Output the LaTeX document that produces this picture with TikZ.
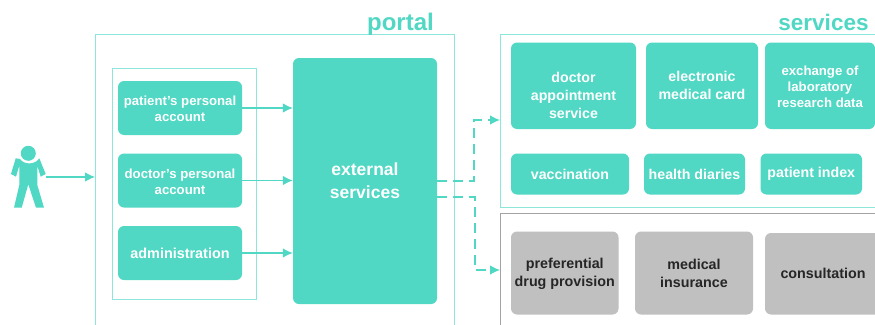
\documentclass[tikz,border=0pt]{standalone}
\usepackage{fontspec}
\setmainfont{Liberation Sans}
\usepackage{xcolor}
\usetikzlibrary{arrows.meta}
\definecolor{mint}{HTML}{50D8C4}
\definecolor{mintframe}{HTML}{8CE6D9}
\definecolor{greybox}{HTML}{C0C0C0}
\newcommand{\topstrut}[1]{\rule{0pt}{#1pt}}
\tikzset{
  mintbox/.style={rectangle, rounded corners=6, fill=mint, text=white, inner sep=0, align=center, font=\bfseries\fontsize{13.2}{16}\selectfont},
  largemint/.style={mintbox, font=\bfseries\fontsize{14.2}{18}\selectfont},
  greyitem/.style={rectangle, rounded corners=6, fill=greybox, text=black!85, inner sep=0, align=center, font=\bfseries\fontsize{14.3}{18}\selectfont},
  framebox/.style={rectangle, draw=mintframe, line width=0.9, inner sep=0},
  flow/.style={draw=mint, line width=1.2, -{Latex[length=10,width=9.5]}},
  dashflow/.style={flow, dash pattern=on 10 off 6},
  heading/.style={text=mint, anchor=base, font=\bfseries\fontsize{22.5}{26}\selectfont},
}
\begin{document}
\begin{tikzpicture}[x=1pt,y=-1pt]
        \clip (0,0) rectangle (875,324);
        \fill[white] (0,0) rectangle (875,324);
        \node[framebox, minimum width=358.5, minimum height=320] (portalframe) at (274.75,194) {};
        \node[framebox, minimum width=143.5, minimum height=231] (accountframe) at (184.25,183.5) {};
        \node[framebox, minimum width=390, minimum height=173] (servicesframe) at (695.5,120.5) {};
        \node[framebox, draw=greybox!85!black, minimum width=390, minimum height=130] (paidframe) at (695.5,278) {};
        \node[heading, font=\bfseries\fontsize{24}{26}\selectfont] (portallabel) at (400.5,30) {portal};
        \node[heading] (serviceslabel) at (823.5,30) {services};
        \node[mintbox, minimum width=124, minimum height=54] (patient) at (180,108) {\topstrut{12}patient's personal\\account};
        \node[mintbox, minimum width=124, minimum height=54] (doctor) at (180,180.5) {\topstrut{12}doctor's personal\\account};
        \node[largemint, minimum width=124, minimum height=54, font=\bfseries\fontsize{14.4}{18}\selectfont] (admin) at (180,253) {administration};
        \node[mintbox, minimum width=144, minimum height=246, font=\bfseries\fontsize{17.5}{23}\selectfont] (external) at (365,181) {external\\services};
        \node[largemint, minimum width=125, minimum height=86.5] (appointment) at (573.5,85.75) {\topstrut{30}doctor\\appointment\\service};
        \node[largemint, minimum width=112, minimum height=86.5] (medcard) at (702,85.75) {electronic\\medical card};
        \node[mintbox, minimum width=110, minimum height=86.5] (labdata) at (820,85.75) {\topstrut{12}exchange of\\laboratory\\research data};
        \node[largemint, minimum width=118, minimum height=41] (vaccination) at (570,174) {vaccination};
        \node[largemint, minimum width=101, minimum height=41] (diaries) at (694.5,174) {health diaries};
        \node[largemint, minimum width=101.5, minimum height=41] (index) at (811.25,174) {patient index};
        \node[greyitem, minimum width=107.5, minimum height=83] (drugs) at (564.75,273) {\topstrut{13}preferential\\drug provision};
        \node[greyitem, minimum width=118, minimum height=83] (insurance) at (694,273) {medical\\insurance};
        \node[greyitem, minimum width=116, minimum height=81.5] (consultation) at (823,273.75) {consultation};
        \node[circle, fill=mint, inner sep=0, minimum size=15] (personhead) at (28.3,153.3) {};
        \fill[mint] (15.7,158.3) -- (11,174) -- (16,176.7) -- (19.3,165.7) -- (19.3,185) -- (14,207.7) -- (21.7,207.7) -- (28.3,184.3) -- (36,207.7) -- (44,207.7) -- (37.3,185) -- (37.3,165.7) -- (40.7,176.7) -- (45.7,174) -- (39.3,158.3) .. controls (35,165) and (24,165) .. (20,159) -- cycle;
        \coordinate (personhand) at (46,177);
        \coordinate (upperout) at (437,181);
        \coordinate (lowerout) at (437,197);
        \coordinate (servicesin) at (500,120);
        \coordinate (paidin) at (500,270);
        \draw[flow] (personhand) -- (personhand -| portalframe.west);
        \draw[flow] (patient.east) -- (patient.east -| external.west);
        \draw[flow] (doctor.east) -- (doctor.east -| external.west);
        \draw[flow] (admin.east) -- (admin.east -| external.west);
        \draw[dashflow] (upperout) -- ++(37,0) |- (servicesin);
        \draw[dashflow] (lowerout) -- ++(38,0) |- (paidin);
\end{tikzpicture}
\end{document}
